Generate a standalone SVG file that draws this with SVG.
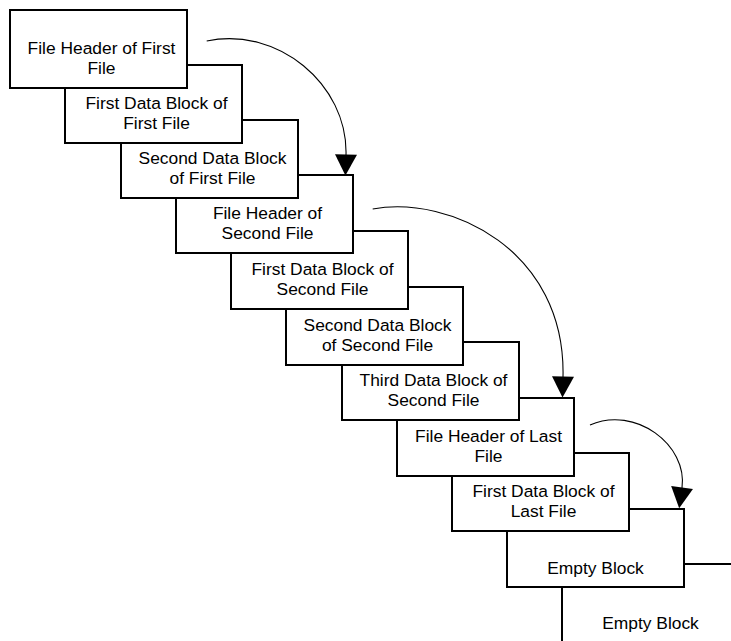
<svg xmlns="http://www.w3.org/2000/svg" width="731" height="641" viewBox="0 0 731 641">
<style>
.box rect{fill:#fff;stroke:#000;stroke-width:2}
.box text{font-family:"Liberation Sans",Arial,sans-serif;font-size:17.4px;fill:#000;text-anchor:middle}
.arc{fill:none;stroke:#000;stroke-width:1.1}
</style>
<defs>
<marker id="ah" markerUnits="userSpaceOnUse" markerWidth="22" markerHeight="22" viewBox="0 0 22 22" refX="0.5" refY="11" orient="auto" overflow="visible">
<path d="M0,0 L21,11 L0,22 Z" fill="#000"/>
</marker>
</defs>
<rect width="731" height="641" fill="#fff"/>
<g id="n11" class="box"><rect x="562" y="564" width="177" height="78"/><text x="650.5" y="628.5">Empty Block</text></g>
<g id="n10" class="box"><rect x="507" y="509" width="177" height="78"/><text x="595.5" y="573.5">Empty Block</text></g>
<g id="n9" class="box"><rect x="452" y="453" width="177" height="78"/><text x="543.5" y="497">First Data Block of</text><text x="543.5" y="517">Last File</text></g>
<g id="n8" class="box"><rect x="397" y="398" width="177" height="78"/><text x="488.5" y="442">File Header of Last</text><text x="488.5" y="462">File</text></g>
<g id="n7" class="box"><rect x="342" y="342" width="177" height="78"/><text x="433.5" y="386">Third Data Block of</text><text x="433.5" y="406">Second File</text></g>
<g id="n6" class="box"><rect x="286" y="287" width="177" height="78"/><text x="377.5" y="331">Second Data Block</text><text x="377.5" y="351">of Second File</text></g>
<g id="n5" class="box"><rect x="231" y="231" width="177" height="78"/><text x="322.5" y="275">First Data Block of</text><text x="322.5" y="295">Second File</text></g>
<g id="n4" class="box"><rect x="176" y="175" width="177" height="78"/><text x="267.5" y="219">File Header of</text><text x="267.5" y="239">Second File</text></g>
<g id="n3" class="box"><rect x="121" y="120" width="177" height="78"/><text x="212.5" y="164">Second Data Block</text><text x="212.5" y="184">of First File</text></g>
<g id="n2" class="box"><rect x="65" y="65" width="177" height="78"/><text x="156.5" y="109">First Data Block of</text><text x="156.5" y="129">First File</text></g>
<g id="n1" class="box"><rect x="10" y="10" width="177" height="78"/><text x="101.5" y="53.5">File Header of First</text><text x="101.5" y="73.5">File</text></g>
<g id="connectors">
<path class="arc" d="M206.7,41 C277,26 348,84 346,155" marker-end="url(#ah)"/>
<path class="arc" d="M372.7,209 C450,195 566,250 563,377" marker-end="url(#ah)"/>
<path class="arc" d="M590,425 C635,405 688,445 682,488" marker-end="url(#ah)"/>
</g>
</svg>
